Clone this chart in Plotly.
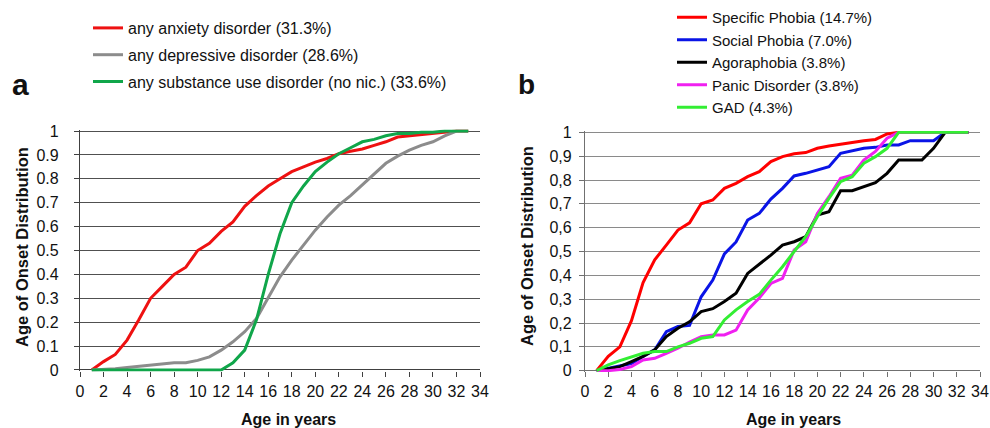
import plotly.graph_objects as go

# ---------------- data ----------------
ages = list(range(1, 34))

# panel a
anxiety = [0, 0.035, 0.065, 0.125, 0.21, 0.30, 0.35, 0.40, 0.43, 0.50, 0.53, 0.58, 0.62, 0.685,
           0.73, 0.77, 0.80, 0.83, 0.85, 0.87, 0.885, 0.905, 0.915, 0.925, 0.94, 0.955, 0.975,
           0.98, 0.985, 0.99, 0.995, 1.0, 1.0]
depressive = [0, 0.002, 0.005, 0.01, 0.015, 0.02, 0.027, 0.03, 0.03, 0.04, 0.055, 0.083, 0.118,
              0.16, 0.215, 0.30, 0.39, 0.46, 0.525, 0.585, 0.64, 0.69, 0.73, 0.775, 0.82, 0.865,
              0.895, 0.92, 0.94, 0.955, 0.98, 1.0, 1.0]
substance = [0, 0, 0, 0, 0, 0, 0, 0, 0, 0, 0, 0, 0.03, 0.083, 0.21, 0.40, 0.57, 0.70, 0.77, 0.83,
             0.87, 0.905, 0.93, 0.955, 0.965, 0.98, 0.99, 0.99, 0.995, 0.995, 1.0, 1.0, 1.0]

# panel b
specific = [0, 0.06, 0.10, 0.21, 0.37, 0.465, 0.527, 0.59, 0.62, 0.70, 0.716, 0.765, 0.786, 0.814,
            0.835, 0.877, 0.898, 0.91, 0.915, 0.933, 0.943, 0.95, 0.96, 0.965, 0.97, 0.993, 1.0,
            1.0, 1.0, 1.0, 1.0, 1.0, 1.0]
social = [0, 0.01, 0.017, 0.03, 0.06, 0.087, 0.164, 0.185, 0.19, 0.31, 0.38, 0.49, 0.54, 0.632,
          0.66, 0.72, 0.765, 0.817, 0.828, 0.842, 0.856, 0.912, 0.923, 0.933, 0.937, 0.947, 0.947,
          0.965, 0.965, 0.965, 1.0, 1.0, 1.0]
agora = [0, 0.01, 0.017, 0.038, 0.06, 0.087, 0.143, 0.178, 0.205, 0.248, 0.26, 0.29, 0.325, 0.408,
         0.445, 0.485, 0.527, 0.541, 0.562, 0.653, 0.667, 0.755, 0.755, 0.772, 0.789, 0.828, 0.884,
         0.884, 0.884, 0.933, 1.0, 1.0, 1.0]
panic = [0, 0, 0.005, 0.017, 0.045, 0.052, 0.073, 0.094, 0.12, 0.143, 0.15, 0.15, 0.17, 0.255,
         0.305, 0.366, 0.387, 0.506, 0.541, 0.66, 0.73, 0.807, 0.82, 0.884, 0.92, 0.975, 1.0,
         1.0, 1.0, 1.0, 1.0, 1.0, 1.0]
gad = [0, 0.024, 0.042, 0.056, 0.073, 0.08, 0.08, 0.10, 0.115, 0.136, 0.143, 0.213, 0.255, 0.29,
       0.32, 0.38, 0.436, 0.5, 0.562, 0.646, 0.723, 0.793, 0.814, 0.87, 0.898, 0.933, 1.0,
       1.0, 1.0, 1.0, 1.0, 1.0, 1.0]

names_a = ["any anxiety disorder (31.3%)", "any depressive disorder (28.6%)",
           "any substance use disorder (no nic.) (33.6%)"]
names_b = ["Specific Phobia (14.7%)", "Social Phobia (7.0%)", "Agoraphobia (3.8%)",
           "Panic Disorder (3.8%)", "GAD (4.3%)"]

x_ticks = list(range(0, 35, 2))
y_ticks = [i / 10 for i in range(11)]
y_labels_a = ["0", "0.1", "0.2", "0.3", "0.4", "0.5", "0.6", "0.7", "0.8", "0.9", "1"]
y_labels_b = ["0", "0,1", "0,2", "0,3", "0,4", "0,5", "0,6", "0,7", "0,8", "0,9", "1"]

# ---------------- figure ----------------
FONT = "Liberation Sans, Arial, sans-serif"
fig = go.Figure()

cols_a = ["#EE1111", "#8C8C8C", "#10A64A"]
for i, (vals, nm, c) in enumerate(zip([anxiety, depressive, substance], names_a, cols_a)):
    fig.add_trace(go.Scatter(x=ages, y=vals, name=nm, mode="lines",
                             line=dict(color=c, width=3), xaxis="x", yaxis="y",
                             legend="legend", legendgroup="a%d" % i))

cols_b = ["#FF0000", "#0A14E6", "#000000", "#F020F0", "#33EE33"]
for i, (vals, nm, c) in enumerate(zip([specific, social, agora, panic, gad], names_b, cols_b)):
    fig.add_trace(go.Scatter(x=ages, y=vals, name=nm, mode="lines",
                             line=dict(color=c, width=3), xaxis="x2", yaxis="y2",
                             legend="legend2", legendgroup="b%d" % i))

W, H = 990, 428

def xaxis(dom, linecol):
    return dict(domain=dom, range=[0, 34], tickvals=x_ticks, ticks="outside", ticklen=5,
                tickcolor=linecol, showgrid=False, zeroline=False, showline=False,
                tickfont=dict(family=FONT, size=16, color="#111"), fixedrange=True)

def yaxis(dom, anchor, labels, gridcol, linecol, standoff):
    return dict(domain=dom, range=[-0.006, 1.006], tickvals=y_ticks, ticktext=labels,
                ticks="outside", ticklen=5, tickcolor=linecol, showgrid=True,
                gridcolor=gridcol, gridwidth=1.2, zeroline=True, zerolinecolor=linecol,
                zerolinewidth=1.2, showline=True, linecolor=linecol, linewidth=1.2,
                anchor=anchor, ticklabelstandoff=standoff,
                tickfont=dict(family=FONT, size=16, color="#111"), fixedrange=True)

fig.update_layout(
    width=W, height=H, margin=dict(l=0, r=0, t=0, b=0, autoexpand=False),
    paper_bgcolor="white", plot_bgcolor="white",
    xaxis=xaxis([80 / W, 480 / W], "#404040"),
    yaxis=yaxis([(H - 371.4) / H, (H - 129.6) / H], "x", y_labels_a, "#505050", "#404040", 12),
    xaxis2=xaxis([585 / W, 980 / W], "#707070"),
    yaxis2=yaxis([(H - 372.1) / H, (H - 130.9) / H], "x2", y_labels_b, "#8A8A8A", "#707070", 4),
    legend=dict(x=88 / W, y=1 - 11 / H, xanchor="left", yanchor="top", bgcolor="rgba(0,0,0,0)",
                font=dict(family=FONT, size=16, color="#111"), tracegroupgap=3,
                itemwidth=30, borderwidth=0),
    legend2=dict(x=672 / W, y=1 - 1 / H, xanchor="left", yanchor="top", bgcolor="rgba(0,0,0,0)",
                 font=dict(family=FONT, size=15, color="#111"), tracegroupgap=0,
                 itemwidth=30, borderwidth=0),
    showlegend=True,
)

annos = [
    dict(text="<b>a</b>", x=20 / W, y=1 - 84 / H, font=dict(size=30)),
    dict(text="<b>b</b>", x=526 / W, y=1 - 84 / H, font=dict(size=28)),
    dict(text="<b>Age of Onset Distribution</b>", x=22 / W, y=1 - 247 / H, textangle=-90,
         font=dict(size=16.5)),
    dict(text="<b>Age of Onset Distribution</b>", x=527 / W, y=1 - 246 / H, textangle=-90,
         font=dict(size=16.5)),
    dict(text="<b>Age in years</b>", x=288 / W, y=1 - 419 / H, font=dict(size=16)),
    dict(text="<b>Age in years</b>", x=793 / W, y=1 - 419 / H, font=dict(size=16)),
]
for a in annos:
    f = a.pop("font")
    fig.add_annotation(xref="paper", yref="paper", showarrow=False, xanchor="center",
                       yanchor="middle", font=dict(family=FONT, color="#111", **f), **a)

fig.write_html("out.html", config={"displayModeBar": False},
               post_script="document.body.style.margin='0';document.body.style.padding='0';")
